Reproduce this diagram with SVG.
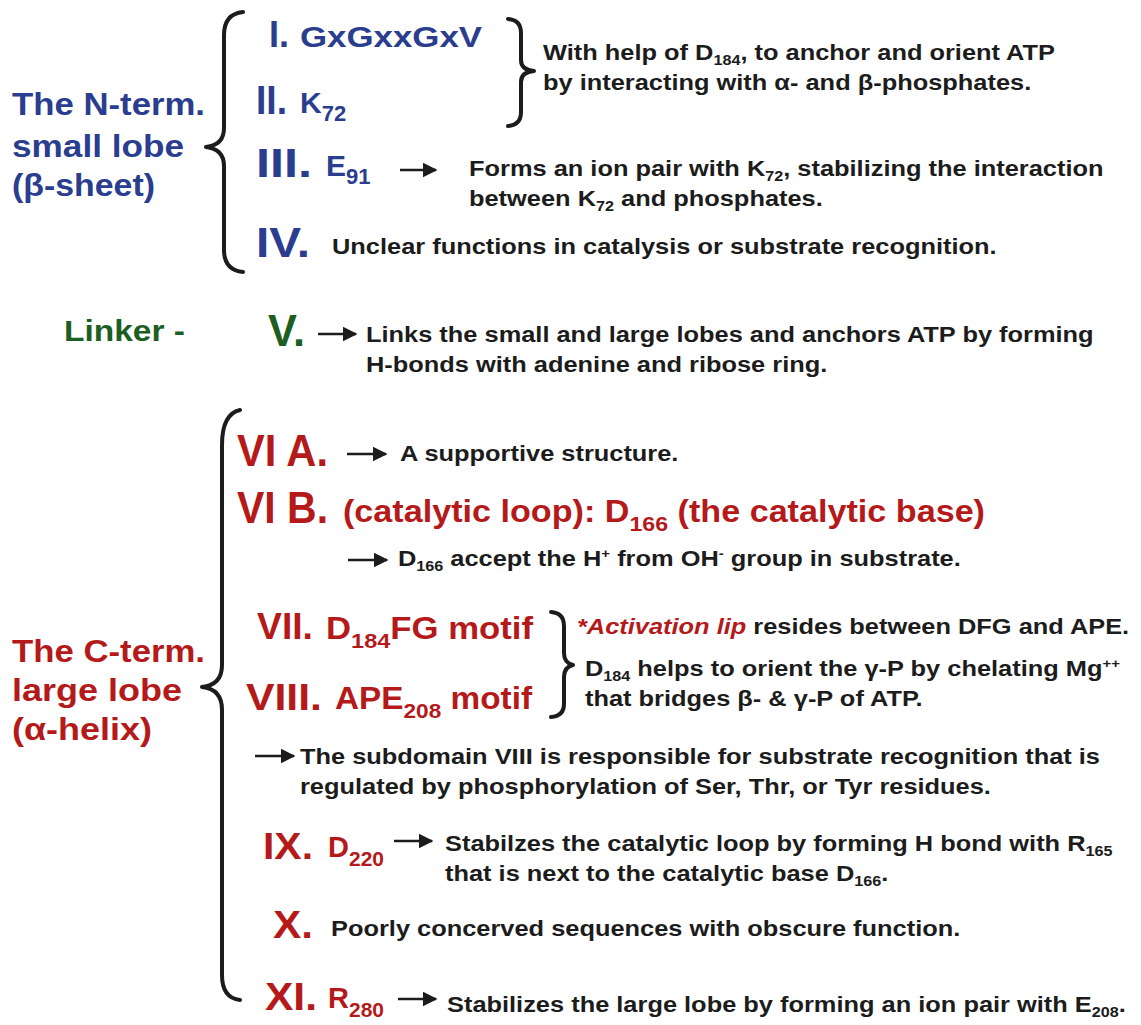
<svg xmlns="http://www.w3.org/2000/svg" width="1141" height="1025" viewBox="0 0 1141 1025">
<style>
text{font-family:"Liberation Sans",Arial,sans-serif;font-weight:bold}
.blue{fill:#2a3d8f}
.green{fill:#1d5e22}
.red{fill:#b51a1a}
.d{fill:#1c1c1c;font-size:22px;transform:scaleX(1.155);transform-box:fill-box;transform-origin:left center}
.lab{font-size:32px}
.brace{fill:none;stroke:#1c1c1c;stroke-width:4;stroke-linecap:round;stroke-linejoin:round}
.arr{stroke:#1c1c1c;stroke-width:2.5;fill:none}
</style>
<defs>
<marker id="ah" viewBox="0 0 10 10" refX="9" refY="5" markerWidth="6" markerHeight="6" orient="auto" markerUnits="strokeWidth">
<path d="M0,0 L10,5 L0,10 z" fill="#1c1c1c"/>
</marker>
</defs>
<rect width="1141" height="1025" fill="#ffffff"/>

<g id="connectors">
<path class="brace" d="M243,12 Q224,14 224,35 L224,128 Q224,145 206,147 Q224,149 224,166 L224,250 Q224,270 243,272"/>
<path class="brace" d="M508,19 Q521,20 521,33 L521,60 Q521,70 534,71 Q521,72 521,82 L521,112 Q521,125 508,126"/>
<path class="brace" d="M240,410 Q222,414 222,445 L222,665 Q222,685 202,687 Q222,689 222,710 L222,975 Q222,998 240,1000"/>
<path class="brace" d="M551,612 Q564,613 564,626 L564,653 Q564,663 573,665 Q564,667 564,677 L564,704 Q564,716 551,717"/>
<line class="arr" x1="400" y1="170" x2="436" y2="170" marker-end="url(#ah)"/>
<line class="arr" x1="318" y1="334" x2="356" y2="334" marker-end="url(#ah)"/>
<line class="arr" x1="347" y1="454" x2="386" y2="454" marker-end="url(#ah)"/>
<line class="arr" x1="348" y1="560" x2="387" y2="560" marker-end="url(#ah)"/>
<line class="arr" x1="255" y1="756" x2="294" y2="756" marker-end="url(#ah)"/>
<line class="arr" x1="394" y1="841" x2="432" y2="841" marker-end="url(#ah)"/>
<line class="arr" x1="398" y1="999" x2="436" y2="999" marker-end="url(#ah)"/>
</g>

<g id="nterm">
<text class="blue lab" x="12" y="115" textLength="193" lengthAdjust="spacingAndGlyphs">The N-term.</text>
<text class="blue lab" x="12" y="157" textLength="172" lengthAdjust="spacingAndGlyphs">small lobe</text>
<text class="blue lab" x="12" y="196" textLength="143" lengthAdjust="spacingAndGlyphs">(β-sheet)</text>
</g>

<g id="sub1">
<text class="blue" x="269" y="47" font-size="36" textLength="20" lengthAdjust="spacingAndGlyphs">I.</text>
<text class="blue" x="300" y="47" font-size="29" textLength="182" lengthAdjust="spacingAndGlyphs">GxGxxGxV</text>
</g>
<g id="sub2">
<text class="blue" x="256" y="114" font-size="40" textLength="31" lengthAdjust="spacingAndGlyphs">II.</text>
<text class="blue" x="300" y="113" font-size="30">K<tspan font-size="22" dy="8">72</tspan></text>
</g>
<g id="desc12">
<text class="d" x="543" y="60">With help of D<tspan font-size="14" dy="5">184</tspan><tspan dy="-5">, to anchor and orient ATP</tspan></text>
<text class="d" x="543" y="90">by interacting with α- and β-phosphates.</text>
</g>
<g id="sub3">
<text class="blue" x="256" y="177" font-size="40" textLength="56" lengthAdjust="spacingAndGlyphs">III.</text>
<text class="blue" x="326" y="176" font-size="30">E<tspan font-size="22" dy="8">91</tspan></text>
<text class="d" x="469" y="176">Forms an ion pair with K<tspan font-size="14" dy="5">72</tspan><tspan dy="-5">, stabilizing the interaction</tspan></text>
<text class="d" x="469" y="206">between K<tspan font-size="14" dy="5">72</tspan><tspan dy="-5"> and phosphates.</tspan></text>
</g>
<g id="sub4">
<text class="blue" x="256" y="257" font-size="42" textLength="54" lengthAdjust="spacingAndGlyphs">IV.</text>
<text class="d" x="332" y="254">Unclear functions in catalysis or substrate recognition.</text>
</g>

<g id="linker">
<text class="green" x="64" y="341" font-size="30" textLength="121" lengthAdjust="spacingAndGlyphs">Linker -</text>
</g>
<g id="sub5">
<text class="green" x="268" y="346" font-size="44" textLength="37" lengthAdjust="spacingAndGlyphs">V.</text>
<text class="d" x="366" y="342">Links the small and large lobes and anchors ATP by forming</text>
<text class="d" x="366" y="372">H-bonds with adenine and ribose ring.</text>
</g>

<g id="cterm">
<text class="red lab" x="12" y="662" textLength="193" lengthAdjust="spacingAndGlyphs">The C-term.</text>
<text class="red lab" x="12" y="701" textLength="170" lengthAdjust="spacingAndGlyphs">large lobe</text>
<text class="red lab" x="12" y="740" textLength="140" lengthAdjust="spacingAndGlyphs">(α-helix)</text>
</g>

<g id="sub6a">
<text class="red" x="237" y="466" font-size="44" textLength="91" lengthAdjust="spacingAndGlyphs">VI A.</text>
<text class="d" x="400" y="461">A supportive structure.</text>
</g>
<g id="sub6b">
<text class="red" x="237" y="523" font-size="44" textLength="91" lengthAdjust="spacingAndGlyphs">VI B.</text>
<text class="red" x="343" y="522" font-size="31" textLength="642" lengthAdjust="spacingAndGlyphs">(catalytic loop): D<tspan font-size="21" dy="9">166</tspan><tspan dy="-9"> (the catalytic base)</tspan></text>
<text class="d" x="398" y="566">D<tspan font-size="14" dy="5">166</tspan><tspan dy="-5"> accept the H</tspan><tspan font-size="13" dy="-8">+</tspan><tspan dy="8"> from OH</tspan><tspan font-size="13" dy="-8">-</tspan><tspan dy="8"> group in substrate.</tspan></text>
</g>
<g id="sub7">
<text class="red" x="257" y="639" font-size="36" textLength="56" lengthAdjust="spacingAndGlyphs">VII.</text>
<text class="red" x="326" y="639" font-size="31" textLength="207" lengthAdjust="spacingAndGlyphs">D<tspan font-size="21" dy="9">184</tspan><tspan dy="-9">FG motif</tspan></text>
<text class="d" x="577" y="634"><tspan fill="#b51a1a" font-style="italic">*Activation lip</tspan> resides between DFG and APE.</text>
</g>
<g id="sub8">
<text class="red" x="246" y="710" font-size="37" textLength="76" lengthAdjust="spacingAndGlyphs">VIII.</text>
<text class="red" x="335" y="709" font-size="31" textLength="197" lengthAdjust="spacingAndGlyphs">APE<tspan font-size="21" dy="9">208</tspan><tspan dy="-9"> motif</tspan></text>
<text class="d" x="585" y="676">D<tspan font-size="14" dy="5">184</tspan><tspan dy="-5"> helps to orient the γ-P by chelating Mg</tspan><tspan font-size="13" dy="-8">++</tspan></text>
<text class="d" x="585" y="706">that bridges β- &amp; γ-P of ATP.</text>
<text class="d" x="300" y="764">The subdomain VIII is responsible for substrate recognition that is</text>
<text class="d" x="300" y="794">regulated by phosphorylation of Ser, Thr, or Tyr residues.</text>
</g>
<g id="sub9">
<text class="red" x="263" y="859" font-size="37" textLength="50" lengthAdjust="spacingAndGlyphs">IX.</text>
<text class="red" x="328" y="857" font-size="29">D<tspan font-size="21" dy="9">220</tspan></text>
<text class="d" x="445" y="851">Stabilzes the catalytic loop by forming H bond with R<tspan font-size="14" dy="5">165</tspan></text>
<text class="d" x="445" y="881">that is next to the catalytic base D<tspan font-size="14" dy="5">166</tspan><tspan dy="-5">.</tspan></text>
</g>
<g id="sub10">
<text class="red" x="273" y="938" font-size="39" textLength="40" lengthAdjust="spacingAndGlyphs">X.</text>
<text class="d" x="331" y="936">Poorly concerved sequences with obscure function.</text>
</g>
<g id="sub11">
<text class="red" x="265" y="1010" font-size="39" textLength="52" lengthAdjust="spacingAndGlyphs">XI.</text>
<text class="red" x="328" y="1008" font-size="29">R<tspan font-size="21" dy="9">280</tspan></text>
<text class="d" x="447" y="1012">Stabilizes the large lobe by forming an ion pair with E<tspan font-size="14" dy="5">208</tspan><tspan dy="-5">.</tspan></text>
</g>
</svg>
